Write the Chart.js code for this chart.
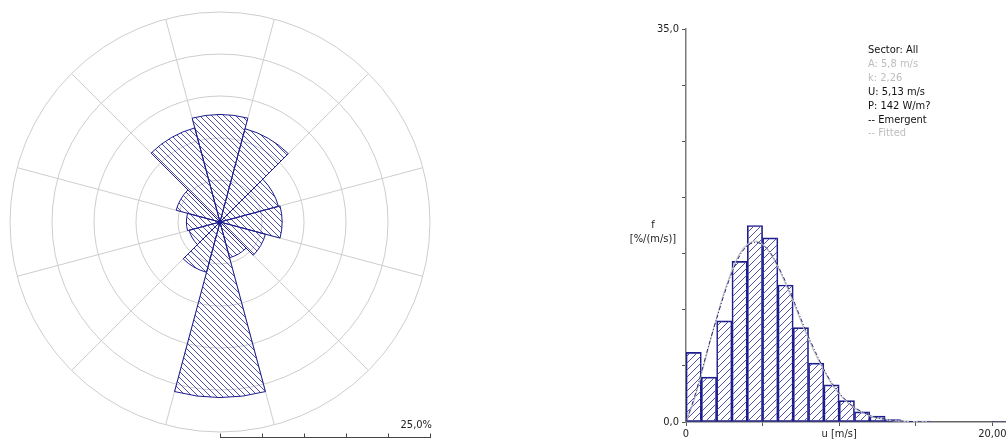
<!DOCTYPE html>
<html>
<head>
<meta charset="utf-8">
<script src="https://cdn.jsdelivr.net/npm/chart.js"></script>
<style>
  html, body { margin: 0; padding: 0; background: #fff; }
  body {
    width: 1006px; height: 442px; overflow: hidden; position: relative;
    font-family: "DejaVu Sans Condensed", "Liberation Sans", sans-serif;
    font-size: 11px; color: #111;
  }
  #rose { position: absolute; left: 0; top: 0; }
  #dist { position: absolute; left: 560px; top: 0; }
  .txt { position: absolute; white-space: nowrap; line-height: 14px; }
  #scaleLabel { left: 392px; top: 418px; width: 40px; text-align: right; color: #222; }
  #yTitle { left: 613px; top: 218px; width: 80px; text-align: center; color: #222; }
  #legend { left: 868px; top: 43px; line-height: 13.9px; }
  .grey { color: #bdbdbd; }
</style>
</head>
<body>
<canvas id="rose" width="440" height="442"></canvas>
<canvas id="dist" width="480" height="442"></canvas>

<div class="txt" id="scaleLabel">25,0%</div>
<div class="txt" id="yTitle">f<br>[%/(m/s)]</div>
<div class="txt" id="legend">
  <div>Sector: All</div>
  <div class="grey">A: 5,8 m/s</div>
  <div class="grey">k: 2,26</div>
  <div>U: 5,13 m/s</div>
  <div>P: 142 W/m?</div>
  <div>-- Emergent</div>
  <div class="grey">-- Fitted</div>
</div>

<script>
// wind rose: 12 sectors, frequency in %
const sectorLabels = ["0", "30", "60", "90", "120", "150", "180", "210", "240", "270", "300", "330"];
const sectorFreq = [12.8, 11.5, 7.2, 7.4, 5.6, 4.4, 20.9, 6.2, 3.8, 4.0, 5.4, 11.6];
const roseRings = [0, 5, 10, 15, 20, 25];

// speed histogram, 1 m/s bins (lower edge)
const speedBins = [0, 1, 2, 3, 4, 5, 6, 7, 8, 9, 10, 11, 12, 13, 14, 15, 16, 17, 18, 19, 20];
const binFreq = [6.2, 4.0, 9.0, 14.3, 17.5, 16.4, 12.2, 8.4, 5.25, 3.3, 1.9, 0.9, 0.53, 0.22, 0, 0.09, 0, 0, 0, 0, 0.04];

// curves, every 0.5 m/s
const curveSpeed = [0, 0.5, 1, 1.5, 2, 2.5, 3, 3.5, 4, 4.5, 5, 5.5, 6, 6.5, 7, 7.5, 8, 8.5, 9, 9.5, 10, 10.5, 11, 11.5, 12, 12.5, 13, 13.5, 14, 15, 16];
const fittedFreq = [0, 1.8, 4.2, 6.8, 9.3, 11.6, 13.5, 15.0, 15.8, 16.1, 15.8, 15.0, 13.8, 12.3, 10.7, 9.0, 7.4, 5.9, 4.6, 3.4, 2.5, 1.8, 1.25, 0.85, 0.55, 0.35, 0.22, 0.13, 0.08, 0.03, 0.01];
const emergentFreq = [0, 2.0, 4.4, 6.9, 9.2, 11.4, 13.3, 14.8, 15.7, 16.0, 15.8, 15.1, 13.9, 12.5, 10.9, 9.2, 7.6, 6.1, 4.7, 3.5, 2.6, 1.85, 1.3, 0.9, 0.6, 0.38, 0.24, 0.15, 0.09, 0.03, 0.01];

const yTickText = ["0,0", "", "", "", "", "", "", "35,0"];
const xTickText = ["0", "", "u [m/s]", "", "20,00"];

Chart.defaults.font.family = '"DejaVu Sans Condensed", "Liberation Sans", sans-serif';
Chart.defaults.font.size = 11;
Chart.defaults.color = "#222";

function hatch(size, color, dir) {
  const c = document.createElement("canvas");
  c.width = size;
  c.height = size;
  const g = c.getContext("2d");
  g.strokeStyle = color;
  g.lineWidth = 1;
  g.beginPath();
  for (let k = -1; k <= 1; k++) {
    if (dir === "back") {
      g.moveTo(k * size, 0);
      g.lineTo(k * size + size, size);
    } else {
      g.moveTo(k * size, size);
      g.lineTo(k * size + size, 0);
    }
  }
  g.stroke();
  return g.createPattern(c, "repeat");
}

const navy = "#1c1c8c";

// ruler under the rose
const scaleBar = {
  id: "scaleBar",
  afterDraw(chart) {
    const r = chart.scales.r;
    const ctx = chart.ctx;
    const y = 437.5;
    const end = r.xCenter + r.getDistanceFromCenterForValue(roseRings[roseRings.length - 1]);
    ctx.save();
    ctx.strokeStyle = "#444";
    ctx.lineWidth = 1;
    ctx.beginPath();
    ctx.moveTo(r.xCenter, y);
    ctx.lineTo(end + 1, y);
    roseRings.forEach((v) => {
      const x = Math.round(r.xCenter + r.getDistanceFromCenterForValue(v)) + 0.5;
      ctx.moveTo(x, y);
      ctx.lineTo(x, y - 4);
    });
    ctx.stroke();
    ctx.restore();
  }
};

new Chart(document.getElementById("rose"), {
  type: "polarArea",
  data: {
    labels: sectorLabels,
    datasets: [{
      data: sectorFreq,
      backgroundColor: hatch(6, "#5050aa", "back"),
      borderColor: navy,
      borderWidth: 1
    }]
  },
  options: {
    responsive: false,
    animation: false,
    layout: { padding: { left: 10, right: 10, top: 12, bottom: 10 } },
    plugins: { legend: { display: false }, tooltip: { enabled: false } },
    scales: {
      r: {
        min: 0,
        max: 25,
        startAngle: -15,
        ticks: { display: false, stepSize: 5 },
        grid: { color: "#cdcdcd", circular: true },
        angleLines: { display: true, color: "#cdcdcd" },
        pointLabels: { display: false }
      }
    }
  },
  plugins: [scaleBar]
});

new Chart(document.getElementById("dist"), {
  data: {
    datasets: [
      {
        type: "line",
        label: "Emergent",
        data: curveSpeed.map((u, i) => ({ x: u, y: emergentFreq[i] })),
        borderColor: "#2a2a80",
        borderWidth: 1,
        borderDash: [4, 2, 1, 2],
        pointRadius: 0,
        tension: 0.3,
        order: 1
      },
      {
        type: "line",
        label: "Fitted",
        data: curveSpeed.map((u, i) => ({ x: u, y: fittedFreq[i] })),
        borderColor: "#c4c4c4",
        borderWidth: 1.2,
        pointRadius: 0,
        tension: 0.3,
        order: 2
      },
      {
        type: "bar",
        label: "Observed",
        data: speedBins.map((b, i) => ({ x: b + 0.5, y: binFreq[i] })),
        backgroundColor: hatch(7, "#5252ac", "fwd"),
        borderColor: navy,
        borderWidth: 1,
        borderSkipped: false,
        barPercentage: 1,
        categoryPercentage: 1,
        order: 3
      }
    ]
  },
  options: {
    responsive: false,
    animation: false,
    layout: { padding: { top: 29, right: 17, left: 0, bottom: 0 } },
    plugins: { legend: { display: false }, tooltip: { enabled: false } },
    scales: {
      x: {
        type: "linear",
        min: 0,
        max: 22,
        offset: false,
        afterFit: (s) => { s.height = 20; },
        ticks: {
          stepSize: 5,
          includeBounds: false,
          autoSkip: false,
          maxRotation: 0,
          padding: 2,
          callback: (v, i) => xTickText[i]
        },
        grid: { offset: false, drawOnChartArea: false, drawTicks: true, tickLength: 4, color: "#555" },
        border: { display: true, color: "#666", width: 1.5 }
      },
      y: {
        min: 0,
        max: 35,
        afterFit: (s) => { s.width = 126; },
        ticks: {
          stepSize: 5,
          autoSkip: false,
          padding: 3,
          callback: (v, i) => yTickText[i]
        },
        grid: { drawOnChartArea: false, drawTicks: true, tickLength: 4, color: "#555" },
        border: { display: true, color: "#7a7a7a", width: 1.5 }
      }
    }
  }
});
</script>
</body>
</html>
